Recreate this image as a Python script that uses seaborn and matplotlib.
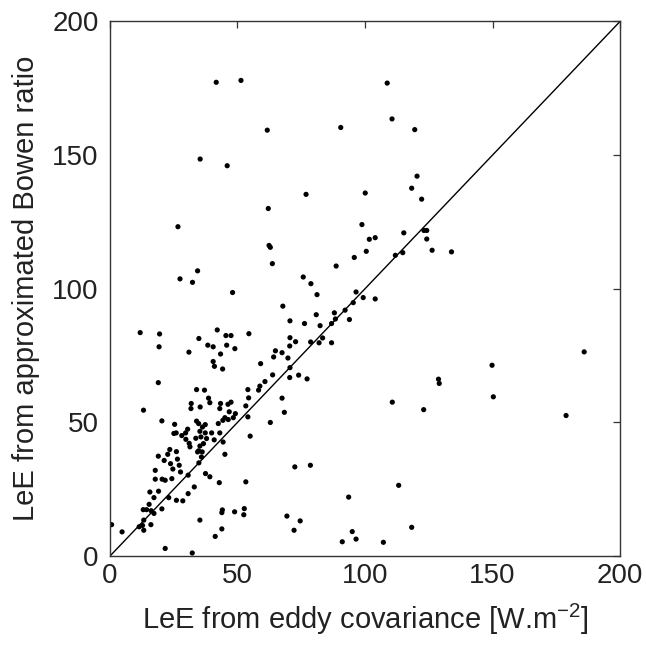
import matplotlib
matplotlib.use("Agg")
import matplotlib.pyplot as plt
import seaborn as sns
import pandas as pd

eddy_cov = [
    48.1, 78.8, 81.2, 67.8, 96.5, 99.3, 95.4, 92.2, 88.0, 88.4, 93.9, 86.9, 80.9, 82.4, 76.3, 70.6,
    83.4, 82.0, 78.7, 86.9, 70.6, 72.8, 70.5, 64.9, 64.2, 67.5, 69.8, 70.6, 59.1, 63.8, 60.8, 58.8,
    58.3, 54.1, 54.4, 53.3, 54.1, 55.0, 70.5, 74.0, 77.3, 67.5, 68.4, 62.9, 72.5, 78.6, 93.6, 69.4,
    74.6, 72.2, 95.0, 96.5, 91.1, 53.3, 52.7, 52.5, 48.9, 44.1, 43.9, 43.9, 41.3, 35.3, 21.7, 32.3,
    42.9, 39.2, 37.5, 45.1, 44.4, 40.9, 33.1, 30.7, 30.7, 28.6, 26.1, 23.1, 20.4, 17.3, 15.7, 19.1,
    15.4, 14.4, 16.2, 17.3, 13.1, 13.3, 12.8, 11.5, 13.3, 16.1, 4.8, 0.7, 17.8, 17.8, 19.0, 20.5,
    21.7, 24.3, 24.7, 27.7, 27.2, 26.5, 26.1, 23.5, 22.7, 21.3, 23.8, 25.1, 26.0, 28.2, 29.7, 30.5,
    29.8, 31.1, 33.7, 25.4, 20.4, 13.2, 19.0, 11.9, 19.5, 19.3, 31.0, 34.9, 38.4, 40.5, 42.1, 45.5,
    47.5, 45.8, 49.0, 54.5, 43.4, 40.5, 41.0, 44.2, 34.0, 37.1, 38.7, 39.2, 31.9, 31.8, 35.4, 43.4,
    43.1, 46.3, 47.5, 46.8, 49.2, 48.4, 45.1, 44.3, 42.5, 46.4, 34.0, 34.8, 37.4, 36.3, 35.3, 37.4,
    35.7, 37.9, 39.9, 43.1, 36.7, 35.3, 34.8, 36.2, 35.9, 34.9, 34.4, 31.4,
    41.7, 51.4, 61.7, 90.5, 35.4, 46.0, 76.9, 100.1, 62.1, 26.7, 98.8, 101.7, 62.4, 62.9, 63.7, 100.5,
    95.8, 88.7, 34.4, 27.5, 32.4, 75.8,
    108.7, 110.6, 119.5, 120.4, 118.3, 122.2, 115.2, 123.1, 124.2, 124.2, 104.0, 126.3, 133.9, 111.9, 114.8,
    104.0, 185.9, 149.8, 128.8, 129.1, 110.7, 123.0, 150.3, 178.8, 113.2, 118.3, 107.2,
]
bowen_ratio = [
    98.6, 101.9, 97.8, 93.5, 98.8, 96.7, 94.8, 92.0, 91.0, 88.7, 88.5, 87.0, 90.3, 86.2, 87.0, 88.0,
    81.6, 79.8, 80.1, 79.8, 81.7, 80.2, 78.6, 76.8, 74.5, 76.1, 74.1, 70.5, 72.0, 67.8, 65.3, 63.6,
    62.1, 62.3, 59.2, 56.2, 52.1, 44.9, 66.8, 67.7, 66.3, 59.1, 53.8, 50.0, 33.4, 34.0, 22.1, 15.0,
    13.2, 9.7, 9.2, 6.4, 5.4, 27.8, 17.8, 15.5, 16.6, 17.3, 16.3, 10.2, 7.4, 13.5, 2.9, 1.2,
    27.5, 29.7, 30.9, 38.1, 42.7, 43.5, 25.9, 30.3, 23.4, 20.7, 20.9, 21.9, 17.7, 21.9, 24.0, 24.3,
    19.4, 17.4, 17.0, 16.0, 17.4, 13.5, 11.5, 11.0, 9.7, 11.8, 9.1, 11.8, 28.8, 32.1, 37.4, 28.8,
    28.4, 29.0, 32.6, 31.5, 34.0, 36.3, 39.1, 39.9, 38.1, 35.8, 34.6, 45.9, 46.1, 45.1, 46.1, 47.5,
    43.7, 42.2, 44.1, 49.3, 50.6, 54.6, 64.9, 83.6, 83.1, 78.3, 76.3, 81.4, 78.9, 78.3, 84.6, 82.5,
    82.5, 78.9, 77.6, 83.2, 75.6, 72.8, 71.0, 70.0, 62.3, 62.1, 59.1, 57.4, 57.1, 55.2, 55.8, 57.1,
    55.2, 56.8, 57.6, 54.0, 53.3, 51.8, 51.8, 50.8, 49.6, 51.1, 50.5, 49.6, 49.2, 48.3, 46.7, 46.1,
    44.6, 44.0, 46.1, 46.1, 42.1, 41.2, 39.4, 39.0, 37.1, 34.9, 39.0, 40.9,
    177.2, 177.9, 159.3, 160.3, 148.5, 146.0, 135.3, 135.8, 130.0, 123.2, 124.0, 118.5, 116.2, 115.5, 109.4, 114.0,
    111.7, 108.5, 106.7, 103.7, 102.4, 104.4,
    176.9, 163.5, 159.5, 142.1, 137.6, 133.5, 120.9, 121.8, 121.8, 118.6, 119.1, 114.4, 113.8, 112.5, 113.5,
    96.2, 76.4, 71.4, 66.2, 64.6, 57.6, 54.8, 59.6, 52.6, 26.5, 10.8, 5.2,
]
ticks = [0, 50, 100, 150, 200]
x_label = "LeE from eddy covariance [W.m$^{\\mathregular{-2}}$]"
y_label = "LeE from approximated Bowen ratio"

sns.set_style("white")
plt.rcParams["font.family"] = ["Liberation Sans", "DejaVu Sans"]
plt.rcParams["mathtext.fontset"] = "custom"
plt.rcParams["mathtext.rm"] = "Liberation Sans"

df = pd.DataFrame({"x": eddy_cov, "y": bowen_ratio})

fig = plt.figure(figsize=(6.46, 6.46), dpi=100)
ax = fig.add_axes([0.170, 0.139, 0.790, 0.828])
ax.plot([0, 200], [0, 200], color="black", lw=1.0, zorder=1)
sns.scatterplot(data=df, x="x", y="y", ax=ax, color="black", s=14,
                edgecolor="none", linewidth=0, zorder=2)
ax.set_xlim(0, 200)
ax.set_ylim(0, 200)
ax.set_xticks(ticks)
ax.set_yticks(ticks)
ax.set_xticklabels([str(t) for t in ticks])
ax.set_yticklabels([str(t) for t in ticks])
ax.tick_params(direction="in", length=5, width=0.9, color="#333333",
               top=True, right=True, labelsize=20, labelcolor="#222222")
ax.tick_params(axis="x", pad=5)
ax.tick_params(axis="y", pad=8)
for s in ax.spines.values():
    s.set_color("#333333")
    s.set_linewidth(1.0)
ax.set_xlabel(x_label, fontsize=21, color="#222222", labelpad=9)
ax.set_ylabel(y_label, fontsize=21, color="#222222", labelpad=9)
fig.savefig("out.png", dpi=100, facecolor="white")
